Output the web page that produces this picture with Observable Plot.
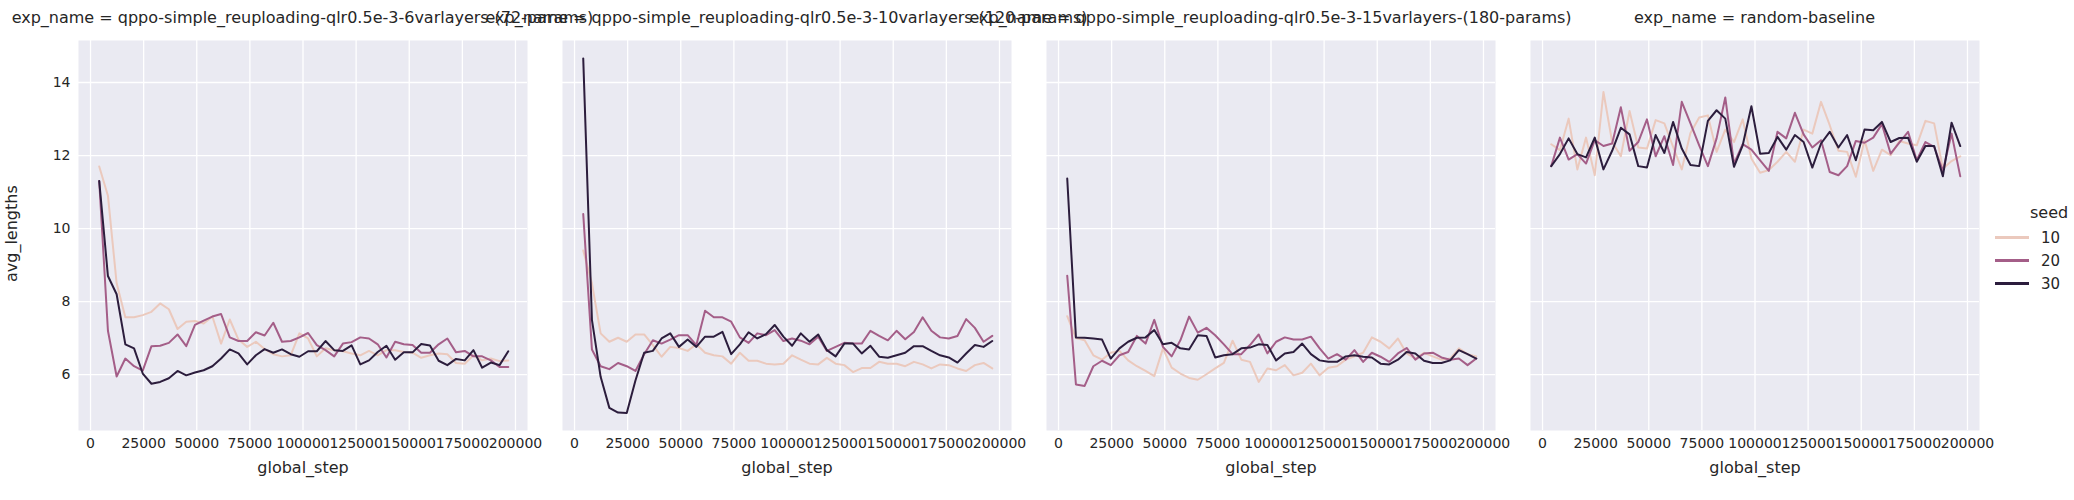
<!DOCTYPE html>
<html>
<head>
<meta charset="utf-8">
<script src="https://cdn.jsdelivr.net/npm/d3@7"></script>
<script src="https://cdn.jsdelivr.net/npm/@observablehq/plot@0.6"></script>
<style>
  body { margin: 0; background: #fff; font-family: "DejaVu Sans", sans-serif; }
  #wrap { position: relative; width: 2074px; height: 500px; }
  .panel { position: absolute; top: 0; }
  .panel svg { overflow: visible; }
  .title { position: absolute; top: 8px; font-size: 16px; color: #262626; white-space: nowrap; transform: translateX(-50%); }
  .legend { position: absolute; left: 1995px; top: 200px; font-size: 15px; color: #262626; }
  .legend .row { display: flex; align-items: center; height: 23px; }
  .legend .sw { width: 34px; height: 3px; margin-right: 12px; }
</style>
</head>
<body>
<div id="wrap"></div>
<script>
const steps = [4096, 8192, 12288, 16384, 20480, 24576, 28672, 32768, 36864, 40960, 45056, 49152, 53248, 57344, 61440, 65536, 69632, 73728, 77824, 81920, 86016, 90112, 94208, 98304, 102400, 106496, 110592, 114688, 118784, 122880, 126976, 131072, 135168, 139264, 143360, 147456, 151552, 155648, 159744, 163840, 167936, 172032, 176128, 180224, 184320, 188416, 192512, 196608]
const seeds = [10, 20, 30]
const expNames = [
  "qppo-simple_reuploading-qlr0.5e-3-6varlayers-(72-params)",
  "qppo-simple_reuploading-qlr0.5e-3-10varlayers-(120-params)",
  "qppo-simple_reuploading-qlr0.5e-3-15varlayers-(180-params)",
  "random-baseline"
]
const yTicks = [6, 8, 10, 12, 14]
const xTicks = [0, 25000, 50000, 75000, 100000, 125000, 150000, 175000, 200000]

// panel 1: 6 varlayers
const p1s10 = [11.7, 10.9, 8.5, 7.57, 7.57, 7.63, 7.72, 7.95, 7.79, 7.25, 7.45, 7.47, 7.4, 7.59, 6.85, 7.51, 6.96, 6.76, 6.9, 6.7, 6.56, 6.5, 6.53, 7.13, 6.99, 6.5, 6.72, 6.67, 6.64, 6.58, 6.53, 6.65, 6.53, 6.67, 6.67, 6.62, 6.6, 6.46, 6.53, 6.58, 6.56, 6.32, 6.3, 6.53, 6.39, 6.44, 6.37, 6.39]
const p1s20 = [11.3, 7.2, 5.95, 6.44, 6.23, 6.11, 6.78, 6.79, 6.87, 7.1, 6.78, 7.36, 7.48, 7.59, 7.66, 7.02, 6.92, 6.92, 7.16, 7.07, 7.42, 6.9, 6.92, 7.02, 7.14, 6.81, 6.67, 6.5, 6.85, 6.89, 7.02, 6.99, 6.83, 6.47, 6.9, 6.83, 6.81, 6.6, 6.6, 6.83, 6.99, 6.61, 6.65, 6.5, 6.5, 6.39, 6.21, 6.21]
const p1s30 = [11.3, 8.7, 8.2, 6.83, 6.72, 6.03, 5.75, 5.8, 5.9, 6.1, 5.98, 6.06, 6.12, 6.23, 6.44, 6.69, 6.58, 6.28, 6.53, 6.7, 6.6, 6.69, 6.56, 6.49, 6.64, 6.64, 6.92, 6.67, 6.65, 6.8, 6.28, 6.39, 6.62, 6.79, 6.41, 6.61, 6.61, 6.84, 6.8, 6.38, 6.26, 6.43, 6.39, 6.67, 6.19, 6.33, 6.26, 6.64]

// panel 2: 10 varlayers
const p2s10 = [9.4, 8.5, 7.13, 6.9, 7.01, 6.9, 7.1, 7.1, 6.81, 6.49, 6.76, 6.73, 6.65, 6.83, 6.6, 6.53, 6.5, 6.3, 6.6, 6.38, 6.38, 6.3, 6.28, 6.3, 6.53, 6.41, 6.3, 6.28, 6.46, 6.3, 6.26, 6.07, 6.18, 6.18, 6.35, 6.3, 6.3, 6.23, 6.35, 6.28, 6.17, 6.28, 6.26, 6.17, 6.1, 6.26, 6.32, 6.17]
const p2s20 = [10.4, 6.69, 6.23, 6.15, 6.32, 6.23, 6.1, 6.56, 6.94, 6.85, 6.96, 7.08, 7.08, 6.81, 7.75, 7.57, 7.57, 7.45, 7.02, 6.87, 7.13, 7.08, 7.22, 6.92, 6.99, 6.93, 6.83, 7.04, 6.65, 6.76, 6.87, 6.85, 6.85, 7.2, 7.06, 6.94, 7.2, 6.97, 7.17, 7.57, 7.2, 7.02, 6.99, 7.06, 7.52, 7.28, 6.9, 7.06]
const p2s30 = [14.66, 7.5, 5.94, 5.09, 4.96, 4.95, 5.84, 6.6, 6.65, 6.99, 7.13, 6.76, 6.96, 6.76, 7.04, 7.04, 7.17, 6.56, 6.83, 7.16, 6.99, 7.11, 7.36, 7.04, 6.79, 7.13, 6.9, 7.1, 6.67, 6.5, 6.85, 6.85, 6.58, 6.79, 6.49, 6.46, 6.53, 6.6, 6.78, 6.78, 6.65, 6.53, 6.47, 6.33, 6.58, 6.81, 6.76, 6.92]

// panel 3: 15 varlayers
const p3s10 = [7.6, 7.0, 6.94, 6.53, 6.41, 6.6, 6.65, 6.39, 6.23, 6.1, 5.96, 6.72, 6.19, 6.03, 5.91, 5.86, 6.01, 6.17, 6.32, 6.93, 6.41, 6.35, 5.8, 6.17, 6.12, 6.26, 5.98, 6.05, 6.3, 5.98, 6.19, 6.23, 6.41, 6.5, 6.6, 7.02, 6.9, 6.72, 6.99, 6.58, 6.44, 6.6, 6.5, 6.41, 6.44, 6.72, 6.56, 6.5]
const p3s20 = [8.71, 5.73, 5.69, 6.23, 6.38, 6.26, 6.53, 6.62, 7.06, 6.85, 7.5, 6.76, 6.5, 6.94, 7.59, 7.15, 7.28, 7.08, 6.83, 6.56, 6.56, 6.81, 7.1, 6.58, 6.9, 7.02, 6.96, 6.96, 7.04, 6.72, 6.44, 6.56, 6.41, 6.67, 6.35, 6.6, 6.49, 6.35, 6.58, 6.73, 6.41, 6.58, 6.6, 6.47, 6.41, 6.44, 6.26, 6.44]
const p3s30 = [11.37, 7.02, 7.01, 6.99, 6.96, 6.44, 6.72, 6.9, 7.01, 7.02, 7.22, 6.83, 6.87, 6.72, 6.69, 7.08, 7.06, 6.47, 6.53, 6.56, 6.72, 6.74, 6.83, 6.81, 6.39, 6.58, 6.62, 6.85, 6.56, 6.39, 6.35, 6.35, 6.5, 6.53, 6.49, 6.47, 6.3, 6.28, 6.41, 6.62, 6.58, 6.38, 6.32, 6.32, 6.39, 6.67, 6.56, 6.44]

// panel 4: random baseline
const p4s10 = [12.31, 12.15, 13.01, 11.62, 12.49, 11.46, 13.74, 12.37, 11.98, 13.22, 12.22, 12.19, 12.97, 12.88, 12.24, 11.62, 12.62, 13.04, 13.1, 12.1, 12.71, 12.37, 12.99, 11.92, 11.53, 11.6, 11.83, 12.1, 11.83, 12.71, 12.6, 13.47, 12.83, 12.13, 12.1, 11.42, 12.42, 11.58, 12.16, 12.01, 12.4, 12.33, 12.28, 12.95, 12.88, 11.64, 11.85, 11.98]
const p4s20 = [11.71, 12.49, 11.89, 12.04, 11.78, 12.42, 12.26, 12.33, 13.32, 12.13, 12.37, 12.99, 11.98, 12.53, 11.74, 13.47, 12.88, 12.28, 11.71, 12.47, 13.59, 11.78, 12.31, 12.16, 11.87, 11.58, 12.65, 12.47, 13.17, 12.58, 12.22, 12.42, 11.55, 11.46, 11.71, 12.4, 12.35, 12.49, 12.86, 12.05, 12.35, 12.65, 11.87, 12.37, 12.24, 11.58, 12.6, 11.43]
const p4s30 = [11.71, 12.04, 12.47, 12.04, 11.95, 12.49, 11.62, 12.13, 12.76, 12.58, 11.71, 11.67, 12.56, 12.07, 12.92, 12.19, 11.74, 11.71, 12.95, 13.24, 13.01, 11.69, 12.28, 13.35, 12.05, 12.07, 12.51, 12.16, 12.56, 12.37, 11.67, 12.33, 12.65, 12.22, 12.56, 11.87, 12.71, 12.69, 12.92, 12.37, 12.48, 12.49, 11.83, 12.26, 12.26, 11.43, 12.9, 12.26]

const panelSeries = [[p1s10, p1s20, p1s30], [p2s10, p2s20, p2s30], [p3s10, p3s20, p3s30], [p4s10, p4s20, p4s30]]
const colors = ["#ebc9bd", "#a45e88", "#2c1d3d"]
const panelLeft = [78, 562, 1046, 1530]
const panelW = 449

const wrap = document.getElementById("wrap")

panelSeries.forEach((series, i) => {
  const rows = []
  series.forEach((vals, s) => vals.forEach((v, k) => rows.push({ global_step: steps[k], avg_lengths: v, seed: seeds[s] })))
  const first = i === 0
  const chart = Plot.plot({
    width: panelW + (first ? 78 : 0),
    height: 500,
    marginLeft: first ? 78 : 0,
    marginRight: 0,
    marginTop: 40,
    marginBottom: 70,
    style: { fontFamily: "DejaVu Sans, sans-serif", fontSize: "14px", color: "#262626", background: "transparent" },
    x: { domain: [-5660, 205660], ticks: xTicks, tickFormat: d => String(d), tickSize: 0, tickPadding: 8, label: null },
    y: { domain: [4.47, 15.15], ticks: yTicks, tickSize: 0, tickPadding: 8, label: null, axis: first ? "left" : null },
    color: { domain: seeds, range: colors },
    marks: [
      Plot.frame({ fill: "#eaeaf2", stroke: null }),
      Plot.gridX(xTicks, { stroke: "#fff", strokeOpacity: 1, strokeWidth: 1.3 }),
      Plot.gridY(yTicks, { stroke: "#fff", strokeOpacity: 1, strokeWidth: 1.3 }),
      Plot.line(rows, { x: "global_step", y: "avg_lengths", z: "seed", stroke: "seed", strokeWidth: 2 }),
      Plot.text(["global_step"], { frameAnchor: "bottom", dy: 42, text: d => d, fontSize: 16 })
    ]
  })
  const div = document.createElement("div")
  div.className = "panel"
  div.style.left = (panelLeft[i] - (first ? 78 : 0)) + "px"
  div.appendChild(chart)
  wrap.appendChild(div)

  const t = document.createElement("div")
  t.className = "title"
  t.style.left = (panelLeft[i] + panelW / 2) + "px"
  t.textContent = "exp_name = " + expNames[i]
  wrap.appendChild(t)
})

// y label
const yl = document.createElement("div")
yl.style.cssText = "position:absolute;left:2px;top:235px;font-size:16px;color:#262626;transform:rotate(-90deg);transform-origin:left top;white-space:nowrap;"
yl.textContent = "avg_lengths"
yl.style.top = "282px"
wrap.appendChild(yl)

// legend
const lg = document.createElement("div")
lg.className = "legend"
lg.innerHTML = '<div style="margin-left:35px;height:26px;line-height:26px;font-size:16px">seed</div>' +
  seeds.map((s, i) => `<div class="row"><div class="sw" style="background:${colors[i]}"></div>${s}</div>`).join("")
wrap.appendChild(lg)
</script>
</body>
</html>
